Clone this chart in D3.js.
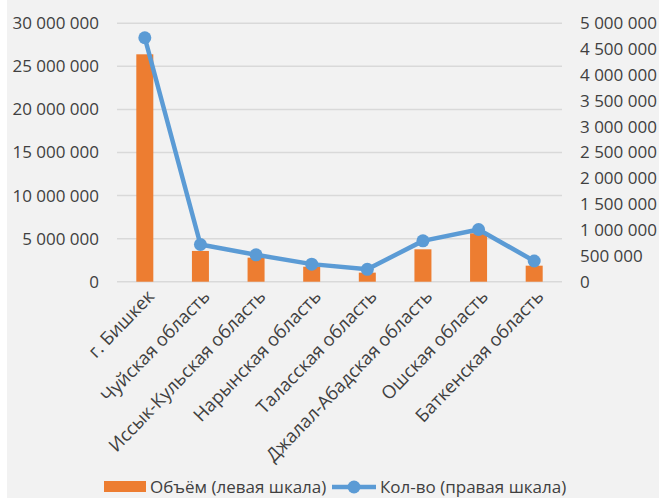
<!DOCTYPE html>
<html><head><meta charset="utf-8">
<script src="https://cdn.jsdelivr.net/npm/d3@7"></script>
<style>
html,body{margin:0;padding:0;background:#fff;}
svg{display:block;}
</style></head>
<body>
<script>
const categories = ["г. Бишкек","Чуйская область","Иссык-Кульская область","Нарынская область","Таласская область","Джалал-Абадская область","Ошская область","Баткенская область"];
const volume = [26400000, 3570000, 2790000, 1740000, 1050000, 3760000, 5620000, 1860000];
const count = [4720000, 720000, 520000, 340000, 240000, 790000, 1010000, 400000];
const leftTicks = [0,5000000,10000000,15000000,20000000,25000000,30000000];
const rightTicks = [0,500000,1000000,1500000,2000000,2500000,3000000,3500000,4000000,4500000,5000000];
const legendLabels = ["Объём (левая шкала)","Кол-во (правая шкала)"];

const W=659,H=498;
const font = "'Open Sans', sans-serif";
const textColor = "#404040";
const svg = d3.select("body").append("svg").attr("width",W).attr("height",H);
svg.append("rect").attr("width",W).attr("height",H).attr("fill","#f2f2f2");
svg.append("rect").attr("width",7).attr("height",H).attr("fill","#ffffff");

const x = d3.scaleBand().domain(categories).range([117,562]);
const yL = d3.scaleLinear().domain([0,30000000]).range([281.7,23.3]);
const yR = d3.scaleLinear().domain([0,5000000]).range([281.7,23.3]);
const fmt = v => d3.format(",")(v).replace(/,/g," ");

// gridlines
svg.append("g").selectAll("line").data(leftTicks).join("line")
  .attr("x1",117).attr("x2",562)
  .attr("y1",d=>yL(d)).attr("y2",d=>yL(d))
  .attr("stroke","#d9d9d9").attr("stroke-width",1.5);

// left axis labels
svg.append("g").selectAll("text").data(leftTicks).join("text")
  .attr("x",99).attr("y",d=>yL(d)).attr("dy","0.35em")
  .attr("text-anchor","end").attr("font-family",font).attr("font-size",17)
  .attr("fill",textColor).text(fmt);

// right axis labels
svg.append("g").selectAll("text").data(rightTicks).join("text")
  .attr("x",580).attr("y",d=>yR(d)).attr("dy","0.35em")
  .attr("text-anchor","start").attr("font-family",font).attr("font-size",17)
  .attr("fill",textColor).text(fmt);

// bars
const bw = 17;
svg.append("g").selectAll("rect").data(volume).join("rect")
  .attr("x",(d,i)=>x(categories[i])+x.bandwidth()/2-bw/2)
  .attr("width",bw)
  .attr("y",d=>yL(d)).attr("height",d=>yL(0)-yL(d))
  .attr("fill","#ed7d31");

// line
const cx = i => x(categories[i])+x.bandwidth()/2;
svg.append("path").datum(count)
  .attr("d",d3.line().x((d,i)=>cx(i)).y(d=>yR(d)))
  .attr("fill","none").attr("stroke","#5b9bd5").attr("stroke-width",4.5)
  .attr("stroke-linejoin","round");
svg.append("g").selectAll("circle").data(count).join("circle")
  .attr("cx",(d,i)=>cx(i)).attr("cy",d=>yR(d)).attr("r",6.5)
  .attr("fill","#5b9bd5");

// category labels
svg.append("g").selectAll("text").data(categories).join("text")
  .attr("transform",(d,i)=>`translate(${cx(i)+6},${293}) rotate(-46)`)
  .attr("text-anchor","end").attr("dy","0.35em")
  .attr("font-family",font).attr("font-size",18.3).attr("fill",textColor)
  .text(d=>d);

// legend
const lg = svg.append("g");
lg.append("rect").attr("x",104).attr("y",481).attr("width",42).attr("height",11).attr("fill","#ed7d31");
lg.append("text").attr("x",150).attr("y",487).attr("dy","0.35em")
  .attr("font-family",font).attr("font-size",17).attr("fill",textColor).text(legendLabels[0]);
lg.append("line").attr("x1",332).attr("x2",376).attr("y1",487).attr("y2",487)
  .attr("stroke","#5b9bd5").attr("stroke-width",4.5);
lg.append("circle").attr("cx",354).attr("cy",487).attr("r",6.5).attr("fill","#5b9bd5");
lg.append("text").attr("x",380).attr("y",487).attr("dy","0.35em")
  .attr("font-family",font).attr("font-size",17).attr("fill",textColor).text(legendLabels[1]);
</script>
</body></html>
